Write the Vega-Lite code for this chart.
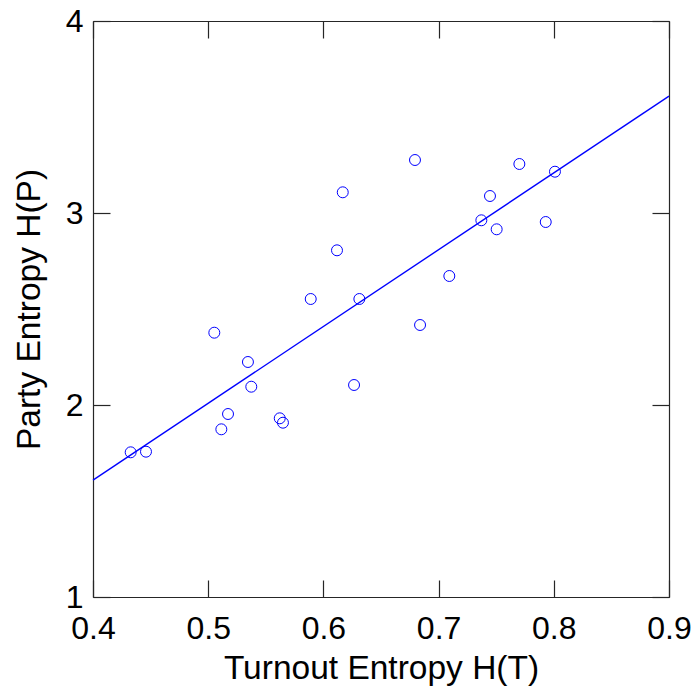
{
  "$schema": "https://vega.github.io/schema/vega-lite/v6.json",
  "width": 576,
  "height": 576,
  "autosize": {"type": "none"},
  "padding": {"left": 93, "top": 21, "right": 29, "bottom": 97},
  "background": "white",
  "config": {
    "view": {"stroke": null},
    "font": "Liberation Sans",
    "axis": {
      "grid": false,
      "domainColor": "#262626",
      "domainWidth": 1.2,
      "tickColor": "#262626",
      "tickWidth": 1.2,
      "tickSize": -17,
      "labelFont": "Liberation Sans",
      "labelFontSize": 32,
      "labelColor": "black",
      "labelFlush": false,
      "labelOverlap": false,
      "titleFont": "Liberation Sans",
      "titleFontSize": 33.5,
      "titleFontWeight": "normal",
      "titleColor": "black"
    }
  },
  "resolve": {"axis": {"x": "independent", "y": "independent"}},
  "layer": [
    {
      "data": {
        "values": [
          {"turnout": 0.4327, "party": 1.7536},
          {"turnout": 0.4460, "party": 1.7568},
          {"turnout": 0.5053, "party": 2.3766},
          {"turnout": 0.5345, "party": 2.2240},
          {"turnout": 0.5374, "party": 2.0953},
          {"turnout": 0.5172, "party": 1.9531},
          {"turnout": 0.5114, "party": 1.8734},
          {"turnout": 0.5621, "party": 1.9307},
          {"turnout": 0.5649, "party": 1.9078},
          {"turnout": 0.5890, "party": 2.5521},
          {"turnout": 0.6118, "party": 2.8057},
          {"turnout": 0.6168, "party": 3.1078},
          {"turnout": 0.6312, "party": 2.5521},
          {"turnout": 0.6266, "party": 2.1042},
          {"turnout": 0.6795, "party": 3.2760},
          {"turnout": 0.6839, "party": 2.4167},
          {"turnout": 0.7093, "party": 2.6719},
          {"turnout": 0.7371, "party": 2.9620},
          {"turnout": 0.7446, "party": 3.0885},
          {"turnout": 0.7504, "party": 2.9151},
          {"turnout": 0.7701, "party": 3.2552},
          {"turnout": 0.7930, "party": 2.9531},
          {"turnout": 0.8010, "party": 3.2151}
        ]
      },
      "mark": {"type": "point", "shape": "circle", "filled": false, "size": 120, "stroke": "#0000ff", "strokeWidth": 1, "opacity": 1},
      "encoding": {
        "x": {
          "field": "turnout", "type": "quantitative",
          "scale": {"domain": [0.4, 0.9], "nice": false, "zero": false},
          "axis": {"orient": "bottom", "values": [0.4, 0.5, 0.6, 0.7, 0.8, 0.9], "format": ".1f", "labelPadding": 33, "title": "Turnout Entropy H(T)", "titlePadding": 8}
        },
        "y": {
          "field": "party", "type": "quantitative",
          "scale": {"domain": [1, 4], "nice": false, "zero": false},
          "axis": {"orient": "left", "values": [1, 2, 3, 4], "format": "d", "labelPadding": 27, "title": "Party Entropy H(P)", "titlePadding": 19}
        }
      }
    },
    {
      "data": {
        "values": [
          {"turnout": 0.4, "party": 1.609},
          {"turnout": 0.9, "party": 3.609}
        ]
      },
      "mark": {"type": "line", "color": "#0000ff", "strokeWidth": 1.4},
      "encoding": {
        "x": {
          "field": "turnout", "type": "quantitative",
          "scale": {"domain": [0.4, 0.9], "nice": false, "zero": false},
          "axis": {"orient": "top", "values": [0.4, 0.5, 0.6, 0.7, 0.8, 0.9], "labels": false, "title": null}
        },
        "y": {
          "field": "party", "type": "quantitative",
          "scale": {"domain": [1, 4], "nice": false, "zero": false},
          "axis": {"orient": "right", "values": [1, 2, 3, 4], "labels": false, "title": null}
        }
      }
    }
  ]
}
